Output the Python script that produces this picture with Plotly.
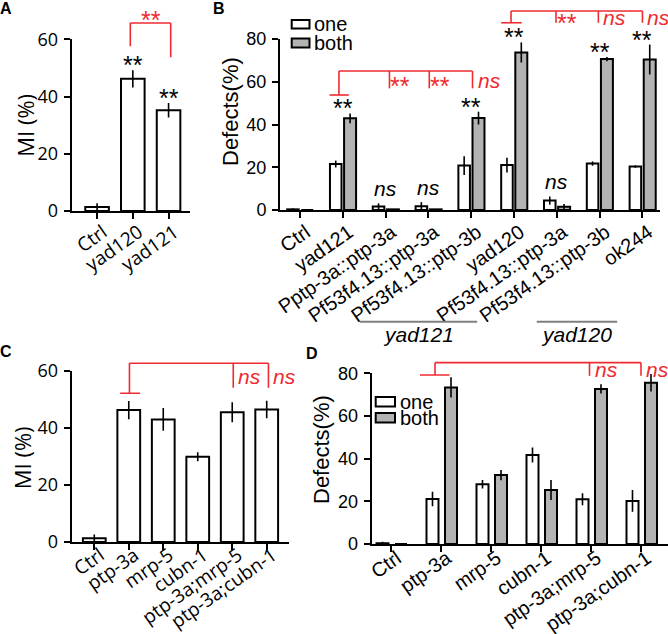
import plotly.graph_objects as go

W, H = 668, 634
RED = "#ee2b31"
GREY = "#b3b3b3"
ARIAL = "Liberation Sans, Arial, sans-serif"
OPEN = "Open Sans, sans-serif"

# ---------------- data ----------------
# Panel A
catsA = ["Ctrl", "yad120", "yad121"]
miA = [1.4, 46.2, 35.2]
errA = [1.3, 3.0, 2.5]
marksA = ["", "**", "**"]

# Panel B
catsB = ["Ctrl", "yad121", "Pptp-3a::ptp-3a", "Pf53f4.13::ptp-3a", "Pf53f4.13::ptp-3b",
         "yad120", "Pf53f4.13::ptp-3a", "Pf53f4.13::ptp-3b", "ok244"]
oneB = [0.3, 21.5, 1.6, 1.7, 20.8, 21.0, 4.4, 21.7, 20.3]
errOneB = [0.5, 1.6, 1.5, 2.0, 4.4, 3.5, 1.9, 1.0, 0.6]
bothB = [0.0, 42.9, 0.3, 0.3, 43.0, 73.7, 1.5, 70.6, 70.4]
errBothB = [0.0, 2.3, 0.2, 0.2, 3.0, 4.7, 1.3, 1.0, 7.0]
marksB = ["", "**", "ns", "ns", "**", "**", "ns", "**", "**"]
groupsB = [("yad121", 1.40, 4.14), ("yad120", 5.53, 7.41)]

# Panel C
catsC = ["Ctrl", "ptp-3a", "mrp-5", "cubn-1", "ptp-3a;mrp-5", "ptp-3a;cubn-1"]
miC = [1.3, 46.3, 43.0, 29.9, 45.5, 46.5]
errC = [1.3, 3.2, 4.0, 1.6, 3.5, 3.1]

# Panel D
catsD = ["Ctrl", "ptp-3a", "mrp-5", "cubn-1", "ptp-3a;mrp-5", "ptp-3a;cubn-1"]
oneD = [0.3, 21.1, 28.0, 41.7, 21.0, 20.2]
errOneD = [0.8, 3.4, 2.0, 3.5, 2.8, 5.1]
bothD = [0.0, 73.4, 32.3, 25.3, 72.7, 75.6]
errBothD = [0.0, 4.7, 2.4, 4.7, 2.2, 4.1]


def px(x):
    return x / W


def py(y):
    return 1 - y / H


LINE = dict(color="black", width=2)
EB = lambda arr: dict(type="data", array=arr, color="black", thickness=1.6, width=0)

fig = go.Figure()

# A
fig.add_trace(go.Bar(x=list(range(len(catsA))), y=miA, width=0.66,
                     marker=dict(color="white", line=LINE), error_y=EB(errA),
                     xaxis="x", yaxis="y", showlegend=False))
# B
fig.add_trace(go.Bar(x=list(range(len(catsB))), y=oneB, width=0.27, offset=-0.30,
                     marker=dict(color="white", line=LINE), error_y=EB(errOneB),
                     xaxis="x2", yaxis="y2", name="one", showlegend=False))
fig.add_trace(go.Bar(x=list(range(len(catsB))), y=bothB, width=0.28, offset=0.03,
                     marker=dict(color=GREY, line=LINE), error_y=EB(errBothB),
                     xaxis="x2", yaxis="y2", name="both", showlegend=False))
# C
fig.add_trace(go.Bar(x=list(range(len(catsC))), y=miC, width=0.66,
                     marker=dict(color="white", line=LINE), error_y=EB(errC),
                     xaxis="x3", yaxis="y3", showlegend=False))
# D
fig.add_trace(go.Bar(x=list(range(len(catsD))), y=oneD, width=0.24, offset=-0.29,
                     marker=dict(color="white", line=LINE), error_y=EB(errOneD),
                     xaxis="x4", yaxis="y4", name="one", showlegend=False))
fig.add_trace(go.Bar(x=list(range(len(catsD))), y=bothD, width=0.24, offset=0.08,
                     marker=dict(color=GREY, line=LINE), error_y=EB(errBothD),
                     xaxis="x4", yaxis="y4", name="both", showlegend=False))


def xax(domain, rng, cats, font, size, anchor, standoff):
    return dict(domain=domain, range=rng, tickmode="array",
                tickvals=list(range(len(cats))), ticktext=cats, tickangle=-35,
                showline=True, linecolor="black", linewidth=2, ticks="outside",
                ticklen=6, tickwidth=2, tickcolor="black", showgrid=False,
                zeroline=False, tickfont=dict(family=font, size=size, color="black"),
                anchor=anchor, fixedrange=True, automargin=False,
                ticklabeloverflow="allow", ticklabelstandoff=standoff, ticklabelshift=6)


def yax(domain, ymax, font, anchor):
    return dict(domain=domain, range=[0, ymax], tickmode="array",
                tickvals=list(range(0, ymax + 1, 20)),
                showline=True, linecolor="black", linewidth=2, ticks="outside",
                ticklen=6, tickwidth=2, tickcolor="black", showgrid=False,
                zeroline=False, tickfont=dict(family=font, size=18, color="black"),
                anchor=anchor, fixedrange=True, ticklabelstandoff=2, automargin=False)


fig.update_layout(
    template="none",
    width=W, height=H, margin=dict(l=0, r=0, t=0, b=0, autoexpand=False),
    paper_bgcolor="white", plot_bgcolor="rgba(0,0,0,0)",
    barmode="overlay", showlegend=False,
    xaxis=xax([px(71.7), px(190)], [-0.71, 2.6], catsA, OPEN, 19, "y", -5),
    yaxis=yax([py(211), py(39.3)], 60, OPEN, "x"),
    xaxis2=xax([px(280), px(660)], [-0.467, 8.41], catsB, ARIAL, 20, "y2", -5),
    yaxis2=yax([py(210), py(39)], 80, ARIAL, "x2"),
    xaxis3=xax([px(71.7), px(289.3)], [-0.655, 5.655], catsC, OPEN, 19, "y3", -13),
    yaxis3=yax([py(542), py(371)], 60, OPEN, "x3"),
    xaxis4=xax([px(371.7), 1.0], [-0.386, 5.54], catsD, ARIAL, 20, "y4", -13),
    yaxis4=yax([py(544), py(373.3)], 80, ARIAL, "x4"),
)

shapes = []
ann = []


def seg(xr, yr, ymax, x0, y0, x1, y1, color=RED, width=1.6):
    shapes.append(dict(type="line", xref=xr, yref=yr + " domain",
                       x0=x0, x1=x1, y0=y0 / ymax, y1=y1 / ymax,
                       line=dict(color=color, width=width)))


def txt(xr, yr, ymax, x, y, s, size, color, xanchor="center", italic=False, xshift=0,
        yshift=0, family=ARIAL):
    if italic:
        s = "<i>" + s + "</i>"
    ann.append(dict(xref=xr, yref=yr + " domain", x=x, y=y / ymax, text=s, showarrow=False,
                    xanchor=xanchor, yanchor="middle", xshift=xshift, yshift=yshift,
                    font=dict(family=family, size=size, color=color)))


STAR = 25


def bracket(xr, yr, ymax, top, left, left_bot, cap, legs, leg_bot, labels, lab_y):
    seg(xr, yr, ymax, left, top, legs[-1], top)
    seg(xr, yr, ymax, left, top, left, left_bot)
    if cap:
        seg(xr, yr, ymax, left - cap[0], left_bot, left + cap[1], left_bot)
    for lx, lab in zip(legs, labels):
        seg(xr, yr, ymax, lx, top, lx, leg_bot)
        txt(xr, yr, ymax, lx, lab_y, lab, 21 if lab == "ns" else STAR, RED, xanchor="left",
            italic=(lab == "ns"), xshift=(3 if lab == "ns" else -1),
            yshift=(0 if lab == "ns" else -6))


# ---- Panel A annotations
for i, m in enumerate(marksA):
    if m:
        txt("x", "y", 60, i, miA[i] + errA[i], m, STAR, "black", yshift=5)
seg("x", "y", 60, 0.93, 65.7, 2.06, 65.7)
seg("x", "y", 60, 0.93, 65.7, 0.93, 57.6)
seg("x", "y", 60, 2.06, 65.7, 2.06, 53.7)
txt("x", "y", 60, 1.52, 68.7, "**", STAR, RED, yshift=-6)

# ---- Panel B annotations
for i, m in enumerate(marksB):
    if not m:
        continue
    top = max(oneB[i] + errOneB[i], bothB[i] + errBothB[i])
    if m == "**":
        txt("x2", "y2", 80, i, top, m, STAR, "black", yshift=5)
    else:
        txt("x2", "y2", 80, i, top, m, 21, "black", italic=True, yshift=15)
bracket("x2", "y2", 80, 65.0, 0.91, 53.8, (0.22, 0.23), [2.09, 3.02, 4.03], 56.9,
        ["**", "**", "ns"], 60.8)
bracket("x2", "y2", 80, 93.1, 4.93, 87.6, (0.23, 0.25), [5.98, 6.97, 8.0], 87.6,
        ["**", "ns", "ns"], 90.2)
for name, x0, x1 in groupsB:
    shapes.append(dict(type="line", xref="x2", yref="paper", x0=x0, x1=x1,
                       y0=py(321.7), y1=py(321.7), line=dict(color="#7f7f7f", width=2)))
    ann.append(dict(xref="x2", yref="paper", x=(x0 + x1) / 2, y=py(334),
                    text="<i>" + name + "</i>", showarrow=False, xanchor="center",
                    yanchor="middle", font=dict(family=ARIAL, size=21, color="black")))

# ---- Panel C annotations
bracket("x3", "y3", 60, 62.7, 1.02, 52.2, (0.27, 0.31), [4.03, 5.05], 54.1,
        ["ns", "ns"], 58.0)

# ---- Panel D annotations
bracket("x4", "y4", 80, 85.0, 0.88, 79.2, (0.30, 0.29), [3.97, 5.0], 78.8,
        ["ns", "ns"], 81.8)

# ---- Legends (B and D)
for (bx0, bx1, rows, tx) in [
    (291.7, 309.5, [(20, 28.5, "one", 24), (38.5, 47.5, "both", 43)], 312),
    (375.7, 395, [(397, 406.5, "one", 402), (413, 422.5, "both", 418)], 398),
]:
    for (y0, y1, label, ty) in rows:
        shapes.append(dict(type="rect", xref="paper", yref="paper",
                           x0=px(bx0), x1=px(bx1), y0=py(y1), y1=py(y0),
                           fillcolor=("white" if label == "one" else GREY),
                           line=dict(color="black", width=2)))
        ann.append(dict(xref="paper", yref="paper", x=px(tx), y=py(ty), text=label,
                        showarrow=False, xanchor="left", yanchor="middle",
                        font=dict(family=ARIAL, size=20, color="black")))

# ---- Axis titles
for (x, y, s, fam) in [(25, 124.7, "MI (%)", OPEN), (230.5, 111.5, "Defects(%)", ARIAL),
                       (22.7, 457.5, "MI (%)", OPEN), (321, 450, "Defects(%)", ARIAL)]:
    ann.append(dict(xref="paper", yref="paper", x=px(x), y=py(y), text=s,
                    textangle=-90, showarrow=False, xanchor="center", yanchor="middle",
                    font=dict(family=fam, size=22, color="black")))

# ---- Panel letters
for (x, y, s) in [(6, 8, "A"), (219, 8, "B"), (6, 351, "C"), (312, 353, "D")]:
    ann.append(dict(xref="paper", yref="paper", x=px(x), y=py(y), text="<b>" + s + "</b>",
                    showarrow=False, xanchor="center", yanchor="middle",
                    font=dict(family=ARIAL, size=16, color="black")))

fig.update_layout(shapes=shapes, annotations=ann)
fig.write_html("out.html", config={"displayModeBar": False},
               post_script="document.body.style.margin='0';document.body.style.overflow='hidden';")
